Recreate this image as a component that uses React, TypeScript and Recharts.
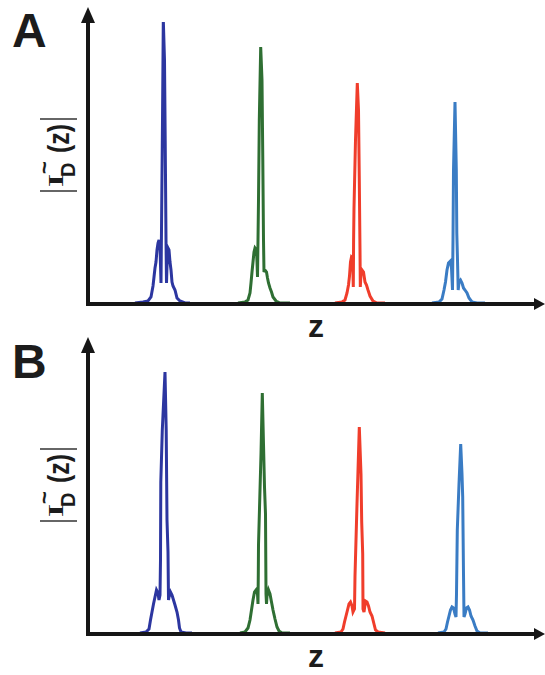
import React from 'react';
import { LineChart, Line, XAxis, YAxis, ReferenceDot } from 'recharts';

// ---- data: [z, |I_D(z)|] pairs (arbitrary units) ----
const peakA1: [number, number][] = [
  [47, 1], [55, 2], [60, 3], [63, 7], [65, 18], [66, 27], [67, 36], [68, 42], [69, 54], [70, 61], [71, 64],
  [72, 58], [72.5, 39], [73, 21], [73.5, 74], [73.8, 107], [74.5, 184], [75.3, 284], [76.5, 244], [77.2, 164],
  [78, 64], [78.5, 21], [79.2, 44], [80, 56], [81, 54], [82, 42], [83, 34], [84, 22], [85, 18], [87, 14],
  [89, 6], [92, 3], [97, 1], [102, 1],
];
const peakA2: [number, number][] = [
  [150, 1], [157, 2], [160, 4], [162, 11], [163, 21], [164, 32], [165, 42], [166, 52], [167, 56], [168.5, 54],
  [169, 42], [169.5, 27], [170, 64], [170.5, 104], [171.3, 184], [172.7, 257], [174, 224], [174.8, 144],
  [175.5, 64], [176, 32], [177, 34], [178.5, 32], [179.5, 26], [180.5, 21], [182, 16], [183.5, 12], [185, 7],
  [188, 3], [192, 1], [202, 1],
];
const peakA3: [number, number][] = [
  [247, 1], [254, 2], [257, 4], [259, 11], [260.5, 19], [261.5, 28], [262.5, 42], [263.5, 47], [264.5, 46],
  [265, 29], [265.3, 17], [265.6, 64], [266, 96], [267.5, 164], [269.3, 221], [270.5, 194], [271.3, 124],
  [272, 54], [272.3, 17], [273, 30], [274, 34], [275.5, 32], [277, 22], [278.5, 19], [280, 14], [282, 8],
  [285, 3], [289, 1], [297, 1],
];
const peakA4: [number, number][] = [
  [344, 1], [351, 2], [354, 5], [356, 14], [357.5, 22], [359, 34], [360.5, 41], [362.5, 43], [363.5, 36],
  [364.5, 14], [365, 64], [365.5, 134], [367, 202], [368.3, 134], [368.8, 71], [369.5, 44], [370.2, 14],
  [371, 22], [372.5, 24], [374, 21], [375.5, 16], [377, 14], [379, 11], [381, 6], [384, 2], [389, 1], [397, 1],
];

const peakB1: [number, number][] = [
  [52, 1], [58, 2], [61, 5], [62.5, 14], [64, 22], [65.5, 30], [67, 37], [68.5, 44], [70, 41], [71, 34],
  [72, 39], [72.5, 74], [72.8, 152], [74.3, 204], [77, 262], [78.2, 204], [79, 114], [80, 82], [80.5, 34],
  [81, 37], [82.5, 42], [84, 39], [85.5, 34], [87, 29], [89, 22], [90.5, 14], [91.5, 6], [93, 2], [98, 1], [104, 1],
];
const peakB2: [number, number][] = [
  [152, 1], [157, 2], [160, 6], [162, 14], [163.5, 24], [165, 34], [166.5, 42], [168, 44], [169.5, 40],
  [170, 30], [170.3, 60], [170.5, 89], [173, 180], [174.3, 241], [175.5, 190], [176.5, 147], [177.5, 120],
  [178, 40], [178.5, 30], [179, 38], [180.5, 44], [182, 40], [183.5, 32], [185, 24], [187, 15], [189, 7],
  [191, 3], [194, 1], [202, 1],
];
const peakB3: [number, number][] = [
  [247, 1], [253, 2], [255, 5], [256.5, 12], [258, 18], [259.5, 24], [261, 30], [262.5, 32], [264, 28],
  [265, 22], [266.5, 25], [267, 58], [269, 130], [271.3, 207], [273, 160], [273.7, 112], [274.7, 80],
  [275, 25], [276, 22], [277.5, 33], [279, 32], [280.5, 28], [282, 22], [284, 18], [286, 10], [287.5, 4],
  [290, 2], [297, 1],
];
const peakB4: [number, number][] = [
  [350, 1], [356, 2], [358, 5], [359.5, 12], [361, 18], [362.5, 24], [364, 27], [365.5, 26], [367, 20],
  [368, 17], [368.5, 40], [369.3, 104], [371, 150], [372.7, 190], [374, 160], [374.7, 137], [375.5, 60],
  [376, 17], [377, 20], [378.5, 26], [380, 27], [381.5, 24], [383, 18], [385, 14], [387, 8], [389, 3],
  [392, 1], [400, 1],
];

const Z_MAX = 447;
const H_MAX = 282;
const panelLetters = ['A', 'B'];
const xLabelText = 'z';

const COLORS = ['#2c36a0', '#2f6f33', '#f03d2b', '#3a7cc4'];
const AXIS = '#161616';
const SANS = '"Liberation Sans", Arial, sans-serif';
const SERIF = '"Liberation Serif", "Times New Roman", serif';

const toPts = (arr: [number, number][]) => arr.map(([z, h]) => ({ z, h }));

const seriesA = [peakA1, peakA2, peakA3, peakA4].map(toPts);
const seriesB = [peakB1, peakB2, peakB3, peakB4].map(toPts);

const UpArrow = (p: any) => {
  const { cx, cy } = p;
  return <polygon points={`${cx - 7},${cy + 1} ${cx + 7},${cy + 1} ${cx},${cy - 15}`} fill={AXIS} />;
};
const RightArrow = (p: any) => {
  const { cx, cy } = p;
  return <polygon points={`${cx - 1},${cy - 6} ${cx - 1},${cy + 6} ${cx + 10},${cy}`} fill={AXIS} />;
};

const YLabel = (props: any) => {
  const vb = props.viewBox || { x: 87, y: 22, width: 1, height: H_MAX };
  const ox = vb.x + (vb.width || 0) - 25;
  const oy = vb.y + vb.height - 113;
  return (
    <g transform={`translate(${ox},${oy}) rotate(-90)`} fill="#1c1c1c">
      <line x1={0} y1={-23} x2={0} y2={14} stroke="#333" strokeWidth={1.4} />
      <line x1={72} y1={-23} x2={72} y2={14} stroke="#333" strokeWidth={1.4} />
      <text x={4} y={0} fontFamily={SERIF} fontWeight="bold" fontSize={22} textLength={13} lengthAdjust="spacingAndGlyphs">I</text>
      <text x={17} y={-11} fontFamily={SANS} fontWeight="bold" fontSize={22}>~</text>
      <text x={14} y={12} fontFamily={SANS} fontWeight="bold" fontSize={20}>D</text>
      <text x={38} y={6} fontFamily={SANS} fontWeight="bold" fontSize={30} textLength={29} lengthAdjust="spacingAndGlyphs">(z)</text>
    </g>
  );
};

const ZLabel = (props: any) => {
  const vb = props.viewBox || { x: 88, y: 304, width: Z_MAX, height: 1 };
  return (
    <text x={vb.x + 228} y={vb.y + 33} textAnchor="middle" fontFamily={SANS} fontWeight="bold" fontSize={32} fill="#1c1c1c">
      {xLabelText}
    </text>
  );
};

const Panel = ({ series, height, bottom }: { series: { z: number; h: number }[][]; height: number; bottom: number }) => (
  <LineChart width={545} height={height} margin={{ top: 22, right: 10, bottom, left: 87 }}>
    <XAxis
      type="number"
      dataKey="z"
      domain={[0, Z_MAX]}
      allowDataOverflow
      tick={false}
      tickLine={false}
      height={1}
      axisLine={{ stroke: AXIS, strokeWidth: 4, strokeLinecap: 'square' }}
      label={{ content: ZLabel }}
    />
    <YAxis
      type="number"
      domain={[0, H_MAX]}
      allowDataOverflow
      tick={false}
      tickLine={false}
      width={1}
      axisLine={{ stroke: AXIS, strokeWidth: 4, strokeLinecap: 'square' }}
      label={{ content: YLabel }}
    />
    {series.map((d, i) => (
      <Line
        key={i}
        data={d}
        dataKey="h"
        type="linear"
        stroke={COLORS[i]}
        strokeWidth={3}
        dot={false}
        activeDot={false}
        isAnimationActive={false}
      />
    ))}
    <ReferenceDot x={0} y={H_MAX} ifOverflow="visible" shape={UpArrow} />
    <ReferenceDot x={Z_MAX} y={0} ifOverflow="visible" shape={RightArrow} />
  </LineChart>
);

export default function App() {
  return (
    <div style={{ position: 'absolute', left: 0, top: 0, width: 545, height: 675, background: '#fff', overflow: 'hidden' }}>
      <div style={{ position: 'absolute', left: 0, top: 0 }}>
        <Panel series={seriesA} height={350} bottom={45} />
      </div>
      <div style={{ position: 'absolute', left: 0, top: 330 }}>
        <Panel series={seriesB} height={345} bottom={40} />
      </div>
      <svg width={545} height={675} style={{ position: 'absolute', left: 0, top: 0, pointerEvents: 'none' }}>
        <text x={12} y={47} fontFamily={SANS} fontWeight="bold" fontSize={48} fill="#1c1c1c">{panelLetters[0]}</text>
        <text x={12} y={378} fontFamily={SANS} fontWeight="bold" fontSize={48} fill="#1c1c1c">{panelLetters[1]}</text>
      </svg>
    </div>
  );
}
